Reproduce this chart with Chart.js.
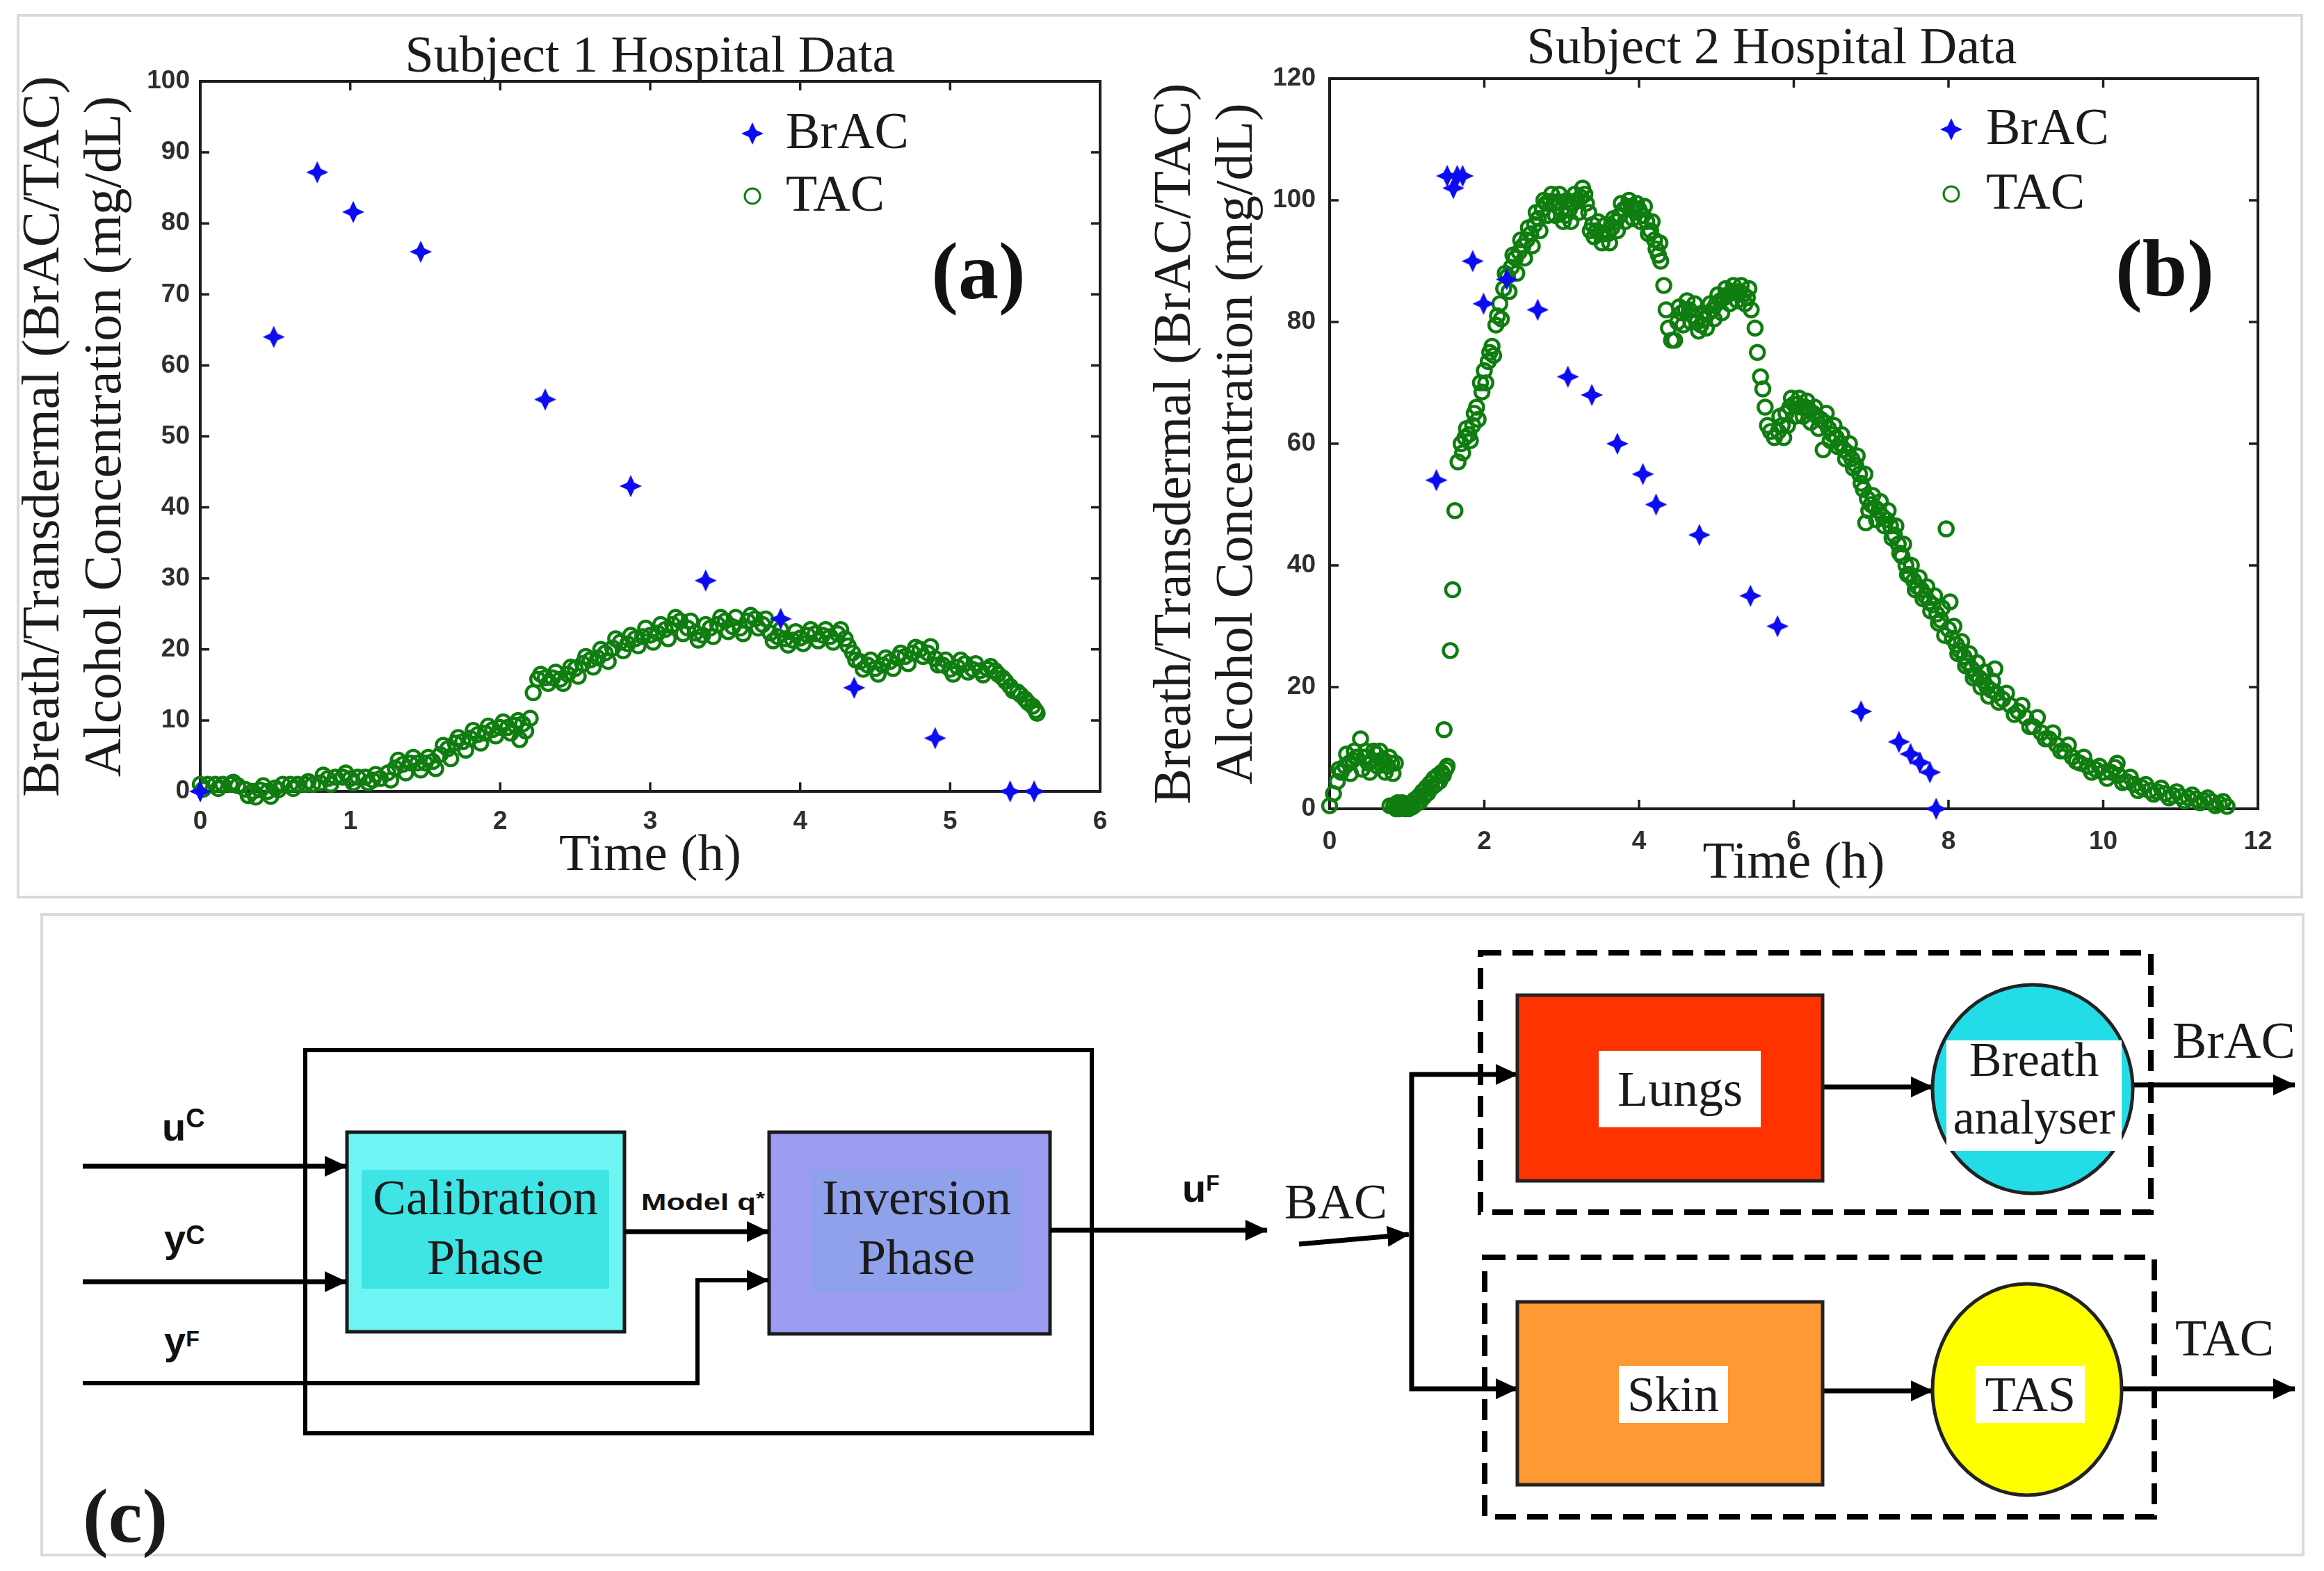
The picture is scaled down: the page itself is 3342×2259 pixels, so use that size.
<!DOCTYPE html>
<html><head><meta charset="utf-8">
<script src="https://cdn.jsdelivr.net/npm/chart.js@4.4.1/dist/chart.umd.min.js"></script>
<style>
html,body{margin:0;padding:0;background:#fff;}
#page{position:relative;width:3342px;height:2259px;overflow:hidden;background:#fff;}
#page canvas,#page svg{position:absolute;}
.lbl{position:absolute;font-family:'Liberation Serif','Times New Roman',serif;color:#1b1b1b;white-space:nowrap;text-align:center;}
</style></head>
<body><div id="page">
<svg width="3342" height="2259" viewBox="0 0 3342 2259" style="left:0;top:0">
<defs><marker id="ah" viewBox="0 0 32 30" markerWidth="32" markerHeight="30" refX="31" refY="15" orient="auto" markerUnits="userSpaceOnUse"><path d="M0,0 L32,15 L0,30 Z" fill="#000"/></marker></defs>
<rect x="26" y="22" width="3284" height="1268" fill="none" stroke="#dadada" stroke-width="4"/>
<rect x="60" y="1315" width="3252" height="921" fill="none" stroke="#dadada" stroke-width="4"/>
<g font-family="Liberation Serif" fill="#1a1a1a" font-size="72" dominant-baseline="central" text-anchor="middle">
 <rect x="439" y="1510" width="1131" height="551" fill="none" stroke="#000" stroke-width="6"/>
 <rect x="499" y="1628" width="399" height="287" fill="#6ff4f4" stroke="#1a1a1a" stroke-width="5"/>
 <rect x="520" y="1682" width="356" height="171" fill="#3fe4e4"/>
 <text x="698" y="1722">Calibration</text><text x="698" y="1808">Phase</text>
 <rect x="1106" y="1628" width="404" height="290" fill="#9c9cf2" stroke="#1a1a1a" stroke-width="5"/>
 <rect x="1166" y="1682" width="304" height="175" fill="#8fa1ea"/>
 <text x="1318" y="1722">Inversion</text><text x="1318" y="1808">Phase</text>
 <g stroke="#000" stroke-width="7" fill="none">
  <line x1="119" y1="1677" x2="498" y2="1677" marker-end="url(#ah)"/>
  <line x1="119" y1="1843" x2="498" y2="1843" marker-end="url(#ah)"/>
  <polyline points="119,1989 1003,1989 1003,1841 1105,1841" stroke-width="6" marker-end="url(#ah)"/>
  <line x1="898" y1="1771" x2="1105" y2="1771" marker-end="url(#ah)"/>
  <line x1="1510" y1="1769" x2="1822" y2="1769" marker-end="url(#ah)"/>
  <line x1="1868" y1="1789" x2="2026" y2="1775" marker-end="url(#ah)"/>
  <line x1="2030" y1="1542" x2="2030" y2="2000"/>
  <line x1="2027" y1="1545" x2="2182" y2="1545" marker-end="url(#ah)"/>
  <line x1="2027" y1="1997" x2="2182" y2="1997" marker-end="url(#ah)"/>
  <line x1="2621" y1="1563" x2="2779" y2="1563" marker-end="url(#ah)"/>
  <line x1="2621" y1="2000" x2="2779" y2="2000" marker-end="url(#ah)"/>
  <line x1="3067" y1="1560" x2="3300" y2="1560" marker-end="url(#ah)"/>
  <line x1="3051" y1="1997" x2="3300" y2="1997" marker-end="url(#ah)"/>
  <rect x="2129" y="1370" width="964" height="373" stroke-width="8" stroke-dasharray="30 16"/>
  <rect x="2135" y="1808" width="963" height="373" stroke-width="8" stroke-dasharray="30 16"/>
 </g>
 <g font-family="Liberation Sans" font-weight="bold" text-anchor="start" dominant-baseline="alphabetic" fill="#111">
  <text x="233" y="1640" font-size="56">u<tspan font-size="38" dy="-19">C</tspan></text>
  <text x="236" y="1800" font-size="56">y<tspan font-size="38" dy="-11">C</tspan></text>
  <text x="236" y="1947" font-size="56">y<tspan font-size="32" dy="-11">F</tspan></text>
  <text x="1700" y="1728" font-size="56">u<tspan font-size="32" dy="-16">F</tspan></text>
  <text x="922" y="1740" font-size="34" textLength="178" lengthAdjust="spacingAndGlyphs">Model q<tspan dy="-8" font-size="26">*</tspan></text>
 </g>
 <text x="1847" y="1728" text-anchor="start">BAC</text>
 <rect x="2182" y="1431" width="439" height="267" fill="#ff3300" stroke="#222" stroke-width="5"/>
 <rect x="2299" y="1511" width="233" height="110" fill="#fff"/>
 <text x="2416" y="1566">Lungs</text>
 <rect x="2182" y="1872" width="439" height="263" fill="#ff9933" stroke="#222" stroke-width="5"/>
 <rect x="2328" y="1964" width="157" height="82" fill="#fff"/>
 <text x="2406" y="2005">Skin</text>
 <ellipse cx="2923" cy="1566" rx="144" ry="150" fill="#22dde8" stroke="#222" stroke-width="5"/>
 <rect x="2799" y="1496" width="252" height="159" fill="#fff"/>
 <text x="2925" y="1523" font-size="70">Breath</text><text x="2925" y="1606" font-size="70">analyser</text>
 <ellipse cx="2915" cy="1998" rx="136" ry="152" fill="#ffff00" stroke="#222" stroke-width="5"/>
 <rect x="2841" y="1964" width="157" height="82" fill="#fff"/>
 <text x="2920" y="2005">TAS</text>
 <text x="3124" y="1496" text-anchor="start" font-size="74">BrAC</text>
 <text x="3128" y="1924" text-anchor="start" font-size="74">TAC</text>
 <text x="119" y="2180" text-anchor="start" font-size="110" font-weight="bold">(c)</text>
</g>
</svg>
<canvas id="c1" width="1640" height="1273" style="left:0;top:0"></canvas>
<canvas id="c2" width="1702" height="1284" style="left:1640px;top:0"></canvas>
<div class="lbl" style="left:435px;width:1000px;top:41px;font-size:74px;line-height:74px">Subject 1 Hospital Data</div>
<div class="lbl" style="left:2048px;width:1000px;top:29px;font-size:74px;line-height:74px">Subject 2 Hospital Data</div>
<div class="lbl" style="left:1307px;width:200px;top:332px;font-size:116px;line-height:116px;font-weight:bold;color:#111">(a)</div>
<div class="lbl" style="left:3013px;width:200px;top:328px;font-size:116px;line-height:116px;font-weight:bold;color:#111">(b)</div>
</div>
<script>
// ---------------- data ----------------
const seriesNames = ['BrAC', 'TAC'];
const yTitle = ['Breath/Transdermal (BrAC/TAC)', 'Alcohol Concentration (mg/dL)'];
const xTitle = 'Time (h)';
const xTicks1 = [0, 1, 2, 3, 4, 5, 6];
const yTicks1 = [0, 10, 20, 30, 40, 50, 60, 70, 80, 90, 100];
const xTicks2 = [0, 2, 4, 6, 8, 10, 12];
const yTicks2 = [0, 20, 40, 60, 80, 100, 120];

// Subject 1: [time (h), mg/dL]
const brac1 = [[0,0],[0.49,64],[0.78,87.2],[1.02,81.6],[1.47,76],[2.3,55.2],[2.87,43],[3.37,29.7],[3.87,24.3],[4.36,14.6],[4.9,7.5],[5.4,0],[5.56,0]];
// TAC circles along the middle of the band
const tac1 = [[0,1],[0.05,1],[0.1,1],[0.15,1],[0.2,1],[0.25,0.8],[0.3,0.3],[0.35,0],[0.4,0.2],[0.45,0],
[0.5,0.5],[0.55,1],[0.6,1],[0.65,1],[0.7,1],[0.75,1],[0.8,1.2],[0.85,1.8],[0.9,2],[0.95,2],
[1,1.8],[1.05,2],[1.1,2],[1.15,1.6],[1.2,1.8],[1.25,2.6],[1.3,3.3],[1.35,3.8],[1.4,4],[1.45,4],
[1.5,4],[1.55,4.2],[1.6,5.2],[1.65,6],[1.7,6.8],[1.75,7],[1.8,7.5],[1.85,8],[1.9,8.2],[1.95,8.7],
[2,9],[2.05,9],[2.1,9.3],[2.15,9.5],[2.2,10.3],[2.22,13.9],
[2.25,15.8],[2.3,16],[2.35,16],[2.4,15.8],[2.45,16.5],[2.5,17.3],[2.55,18],[2.6,18.5],[2.65,18.8],[2.7,19.5],
[2.75,20.2],[2.8,21],[2.85,20.8],[2.9,21.5],[2.95,21.8],[3,22],[3.05,22.3],[3.1,22.8],[3.15,23.5],[3.2,24],
[3.25,23],[3.3,22.3],[3.35,22],[3.4,23],[3.45,23.5],[3.5,24],[3.55,23.2],[3.6,23],[3.65,24],[3.7,24.3],
[3.75,23.5],[3.8,22.3],[3.85,21.8],[3.9,21.5],[3.95,21.3],[4,21.6],[4.05,22],[4.1,22.2],[4.15,22],[4.2,21.8],
[4.25,22.2],[4.3,21.5],[4.35,19.5],[4.4,18.3],[4.45,17.8],[4.5,17.3],[4.55,17.8],[4.6,18.3],[4.65,18.8],[4.7,19],
[4.75,19.5],[4.8,20],[4.85,19.5],[4.9,18.7],[4.95,17.8],[5,17.2],[5.05,17.5],[5.1,18],[5.15,17.2],[5.2,17],
[5.25,17.2],[5.3,17],[5.35,16],[5.4,14.8],[5.45,14],[5.5,13],[5.55,12],[5.58,11]];
// further TAC circles read along the upper / lower edges of the band
const tac1Edge = [[0.02,0.3],[0.12,0.4],[0.22,1.3],[0.32,-0.6],[0.37,-0.8],[0.42,0.8],[0.47,-0.7],[0.52,0.2],[0.62,0.4],[0.72,1.4],
[0.82,2.3],[0.87,1],[0.97,2.6],[1.02,1.2],[1.12,1.2],[1.17,2.4],[1.27,1.6],[1.32,4.4],[1.37,2.6],[1.42,4.8],
[1.47,3],[1.52,4.8],[1.57,3.2],[1.62,6.5],[1.67,4.6],[1.72,7.6],[1.77,5.8],[1.82,8.6],[1.87,6.8],[1.92,9.2],
[1.97,7.8],[2.02,9.8],[2.07,8.2],[2.12,10],[2.13,7.3],[2.17,8.5],
[2.27,16.5],[2.32,15.2],[2.37,16.8],[2.42,15.2],[2.47,17.5],[2.52,16.2],[2.57,19],[2.62,17.5],[2.67,20],[2.72,18.3],
[2.77,21.5],[2.82,19.8],[2.87,22],[2.92,20.5],[2.97,23],[3.02,21],[3.07,23.5],[3.12,21.5],[3.17,24.5],[3.22,22.2],
[3.27,24],[3.32,21.3],[3.37,23.5],[3.42,21.8],[3.47,24.5],[3.52,22.5],[3.57,24.5],[3.62,22.2],[3.67,24.8],[3.72,23],
[3.77,24.3],[3.82,21.2],[3.87,22.8],[3.92,20.6],[3.97,22.5],[4.02,20.8],[4.07,22.8],[4.12,21.2],[4.17,22.8],[4.22,21],
[4.27,22.8],[4.32,20.5],[4.37,18.5],[4.42,17.2],[4.47,18.5],[4.52,16.5],[4.57,18.8],[4.62,17.3],[4.67,19.5],[4.72,18],
[4.77,20.3],[4.82,19],[4.87,20.4],[4.92,17.8],[4.97,18.5],[5.02,16.5],[5.07,18.5],[5.12,16.8],[5.17,18],[5.22,16.4],
[5.27,17.6],[5.32,16.5],[5.37,15.5],[5.42,14.2],[5.47,13.6],[5.52,12.5],[5.57,11.4]];

// Subject 2: [time (h), mg/dL]
const brac2 = [[1.38,54],[1.52,104],[1.6,102],[1.65,104],[1.72,104],[1.85,90],[1.99,83],[2.29,87],[2.69,82],[3.08,71],[3.39,68],[3.72,60],[4.05,55],[4.22,50],[4.78,45],[5.44,35],[5.79,30],[6.87,16],[7.36,11],[7.51,9],[7.63,7.6],[7.76,6],[7.84,0]];
const tac2 = [[0,0.5],[0.05,2.5],[0.1,4.5],[0.15,6],[0.2,7],[0.25,7.5],[0.3,8],[0.35,8.5],[0.4,11.5],[0.45,8.5],
[0.5,7.5],[0.55,8],[0.6,9],[0.65,9.5],[0.7,8],[0.75,7],[0.78,0.5],[0.8,7.5],[0.83,0.5],[0.85,7.5],[0.88,1],[0.92,0.5],[0.96,0.5],
[1,0.5],[1.05,1],[1.1,1.5],[1.15,2],[1.2,2.8],[1.25,3.5],[1.3,4.2],[1.35,5],[1.4,5.5],[1.45,6],[1.48,13],[1.5,6.5],
[1.56,26],[1.59,36],[1.62,49],[1.66,57],[1.7,60],[1.75,61],[1.8,61.5],[1.85,63],[1.9,66],[1.95,70],
[2,72],[2.05,73.5],[2.1,76],[2.15,79.5],[2.2,83],[2.25,85.5],[2.3,87.5],[2.35,89],[2.4,90.5],[2.45,91.5],
[2.5,92.5],[2.55,93.5],[2.6,94.5],[2.65,96],[2.7,97],[2.75,98.5],[2.8,99.5],[2.85,99.8],[2.9,99.5],[2.95,99.8],
[3,98.5],[3.05,97.5],[3.1,98.5],[3.15,99.5],[3.2,100],[3.25,100.5],[3.3,101],[3.35,98],[3.4,96],[3.45,95],
[3.5,94.5],[3.55,94.5],[3.6,94.5],[3.65,95.5],[3.7,96.5],[3.75,97.5],[3.8,98.5],[3.85,99],[3.9,99],[3.95,98.5],
[4,98.5],[4.05,97.5],[4.1,96.5],[4.15,95],[4.2,93.5],[4.25,91],[4.28,90],[4.32,86],[4.35,82],[4.38,79],[4.42,77],[4.46,77],
[4.5,80],[4.55,81.5],[4.6,82],[4.65,82],[4.7,81],[4.75,80],[4.8,79.5],[4.85,80.5],[4.9,81.5],[4.95,82],
[5,83],[5.05,83.5],[5.1,84],[5.15,84.5],[5.2,85],[5.25,85],[5.3,85],[5.35,84.5],[5.4,84],[5.45,82],
[5.5,79],[5.53,75],[5.57,71],[5.6,69],[5.63,66],[5.66,63],[5.7,62],[5.75,61],[5.8,62],[5.85,63],[5.9,65],[5.95,66],
[6,66.5],[6.05,66.5],[6.1,66],[6.15,66],[6.2,65.5],[6.25,65],[6.3,64.5],[6.35,64],[6.38,59],[6.4,63.5],[6.45,62.5],
[6.5,61.5],[6.55,61],[6.6,60],[6.65,59],[6.7,58.5],[6.75,57.5],[6.8,56.5],[6.85,55],[6.9,52.5],[6.93,47],[6.95,51],
[7,50],[7.05,49.5],[7.1,49],[7.15,48],[7.2,47.5],[7.25,46.5],[7.3,45],[7.35,43.5],[7.4,41.5],[7.45,40],
[7.5,38.5],[7.55,37.5],[7.6,36.5],[7.65,36],[7.7,35],[7.75,34],[7.8,33.5],[7.85,32],[7.9,31],[7.97,46],
[8,29.5],[8.02,34],[8.05,28],[8.1,27],[8.15,26],[8.2,25],[8.25,24],[8.3,23],[8.35,22],[8.4,21.5],[8.45,21],
[8.5,20],[8.55,19.5],[8.6,23],[8.62,19],[8.7,18],[8.8,17],[8.9,16],[9,15],[9.1,13.5],[9.2,12.5],[9.3,11.5],[9.4,10.5],
[9.5,9.5],[9.6,8.5],[9.7,7.5],[9.8,7],[9.9,6.5],[10,6],[10.1,6],[10.18,7.5],[10.2,5.5],[10.3,4.5],[10.4,4],
[10.5,3.5],[10.6,3],[10.7,2.8],[10.8,2.5],[10.9,2.2],[11,2],[11.1,1.8],[11.2,1.6],[11.3,1.4],[11.4,1.2],[11.5,0.8],[11.6,0.4]];
const tac2Edge = [[0.12,6.5],[0.22,9],[0.27,5.8],[0.32,9.5],[0.42,6.5],[0.47,9.5],[0.52,6],[0.57,9.5],[0.62,7],[0.67,8],[0.72,6],[0.77,8.5],[0.82,5.8],
[0.86,0],[0.9,0],[0.94,1],[0.98,0],[1.02,0],[1.07,0.3],[1.12,0.8],[1.17,1.2],[1.22,2],[1.27,2.6],[1.32,3.5],[1.37,4],[1.42,4.5],[1.47,5.5],[1.52,7],
[1.72,58.5],[1.77,62.5],[1.82,60.5],[1.87,65],[1.92,64],[1.97,68.5],[2.02,70],[2.07,75],[2.12,74.5],[2.17,81],[2.22,80.5],[2.27,88],
[2.32,85],[2.37,91],[2.42,88],[2.47,93.5],[2.52,90.5],[2.57,95.5],[2.62,92.5],[2.67,98],[2.72,95],[2.77,100],[2.82,97.5],[2.87,101],
[2.92,97.5],[2.97,101],[3.02,96.5],[3.07,100],[3.12,96.5],[3.17,101],[3.22,98],[3.27,102],[3.32,99.5],[3.37,95],[3.42,94],[3.47,96.5],
[3.52,93],[3.57,96],[3.62,93],[3.67,97],[3.72,95],[3.77,99.5],[3.82,96.5],[3.87,100],[3.92,97],[3.97,99.5],[4.02,96.5],[4.07,99],
[4.12,94.5],[4.17,96.5],[4.22,92],[4.27,93],
[4.52,82.5],[4.57,79.5],[4.62,83.5],[4.67,80],[4.72,83],[4.77,78.5],[4.82,81.5],[4.87,79],[4.92,83],[4.97,80.5],[5.02,84.5],[5.07,81.5],
[5.12,85.5],[5.17,83],[5.22,86],[5.27,83.5],[5.32,86],[5.37,83],[5.42,85.5],
[5.82,64.5],[5.87,61],[5.92,63],[5.97,67.5],[6.02,64.5],[6.07,67.5],[6.12,64.5],[6.17,67],[6.22,63.5],[6.27,66],[6.32,62.5],
[6.42,65],[6.47,60.5],[6.52,63],[6.57,59.5],[6.62,61.5],[6.67,57.5],[6.72,60],[6.77,56],[6.82,58],[6.87,53.5],[6.92,55],[6.97,49],
[7.02,51.5],[7.07,47.5],[7.12,50.5],[7.17,46.5],[7.22,49],[7.27,44.5],[7.32,46.5],[7.37,42],[7.42,43.5],[7.47,38.5],[7.52,40],[7.57,36],
[7.62,38],[7.67,34.5],[7.72,36.5],[7.77,32.5],[7.82,35],[7.87,30.5],[7.92,33],[7.95,28.5],
[8.07,30],[8.12,25.5],[8.17,27.5],[8.22,23.5],[8.27,25.5],[8.32,21.5],[8.37,24],[8.42,20],[8.47,22.5],[8.52,18.5],[8.57,21],[8.65,17.5],
[8.75,19],[8.85,15.5],[8.95,17],[9.05,13.5],[9.15,15],[9.25,11.5],[9.35,12.5],[9.45,9.5],[9.55,10.5],[9.65,7.8],[9.75,8.5],[9.85,6],
[9.95,7],[10.05,5],[10.15,6.8],[10.25,4.3],[10.35,5.2],[10.45,3],[10.55,4],[10.65,2.4],[10.75,3.4],[10.85,1.8],[10.95,2.8],[11.05,1.3],
[11.15,2.3],[11.25,1],[11.35,1.8],[11.45,0.5],[11.55,1.2]];

// ---------------- styling / rendering ----------------
const BLUE = '#0c0cf2', GREEN = '#0f7d0f', TEXT = '#1b1b1b';
const SERIF = "'Liberation Serif','Times New Roman',serif";
const SANS = "'Liberation Sans',Arial,sans-serif";

function makeStar(size, color) {
  const c = document.createElement('canvas');
  c.width = c.height = size;
  const g = c.getContext('2d');
  const h = size / 2, r = size / 2 - 1, ri = r * 0.45;
  g.beginPath();
  for (let i = 0; i < 8; i++) {
    const a = -Math.PI / 2 + i * Math.PI / 4;
    const rr = i % 2 ? ri : r;
    g.lineTo(h + rr * Math.cos(a), h + rr * Math.sin(a));
  }
  g.closePath(); g.fillStyle = color; g.fill();
  return c;
}
const star = makeStar(34, BLUE);

const boxPlugin = {
  id: 'matlabBox',
  beforeDatasetsDraw(chart) {
    const {ctx, chartArea: a, scales: {x, y}} = chart;
    ctx.save();
    ctx.strokeStyle = '#1e1e1e'; ctx.lineWidth = 4;
    ctx.strokeRect(a.left, a.top, a.right - a.left, a.bottom - a.top);
    ctx.lineWidth = 3.5; const L = 13;
    ctx.beginPath();
    x.ticks.forEach(t => { const p = x.getPixelForValue(t.value); ctx.moveTo(p, a.bottom); ctx.lineTo(p, a.bottom - L); ctx.moveTo(p, a.top); ctx.lineTo(p, a.top + L); });
    y.ticks.forEach(t => { const p = y.getPixelForValue(t.value); ctx.moveTo(a.left, p); ctx.lineTo(a.left + L, p); ctx.moveTo(a.right, p); ctx.lineTo(a.right - L, p); });
    ctx.stroke();
    ctx.restore();
  }
};

const legendPlugin = {
  id: 'inLegend',
  afterDatasetsDraw(chart, args, o) {
    const {ctx, chartArea: a} = chart;
    const mx = a.left + o.dx, y1 = a.top + o.dy1, y2 = a.top + o.dy2, tx = a.left + o.tx;
    ctx.save();
    ctx.drawImage(star, mx - star.width / 2, y1 - star.height / 2);
    ctx.beginPath(); ctx.arc(mx, y2, 11, 0, Math.PI * 2);
    ctx.lineWidth = 3; ctx.strokeStyle = GREEN; ctx.stroke();
    ctx.font = '74px ' + SERIF; ctx.fillStyle = TEXT; ctx.textBaseline = 'middle'; ctx.textAlign = 'left';
    ctx.fillText(chart.data.datasets[0].label, tx, y1 + 2);
    ctx.fillText(chart.data.datasets[1].label, tx, y2 + 2);
    ctx.restore();
  }
};

function build(id, brac, tac, xT, yT, lay) {
  return new Chart(document.getElementById(id), {
    type: 'scatter',
    data: {
      datasets: [
        {label: seriesNames[0], data: brac.map(p => ({x: p[0], y: p[1]})), pointStyle: star, pointRadius: 17, clip: false, order: 0},
        {label: seriesNames[1], data: tac.map(p => ({x: p[0], y: p[1]})), pointStyle: 'circle', pointRadius: 10,
         borderWidth: 4.5, borderColor: GREEN, backgroundColor: 'rgba(0,0,0,0)', clip: false, order: 1}
      ]
    },
    options: {
      responsive: false, animation: false, events: [],
      layout: {padding: {left: lay.padL, top: lay.padT, right: lay.padR, bottom: 0}},
      plugins: {legend: {display: false}, tooltip: {enabled: false},
        inLegend: {dx: lay.lgX, dy1: lay.lgY1, dy2: lay.lgY2, tx: lay.lgT}},
      scales: {
        x: {
          type: 'linear', min: xT[0], max: xT[xT.length - 1],
          afterBuildTicks: s => { s.ticks = xT.map(v => ({value: v})); },
          afterFit: s => { s.height = lay.xH; },
          grid: {display: false, drawTicks: false}, border: {display: false},
          ticks: {padding: lay.xPad, autoSkip: false, maxRotation: 0, color: '#2e2e2e', font: {family: SANS, weight: 'bold', size: 37}},
          title: {display: true, text: xTitle, color: TEXT, padding: 0, font: {family: SERIF, size: 75, lineHeight: 1.1}}
        },
        y: {
          type: 'linear', min: yT[0], max: yT[yT.length - 1],
          afterBuildTicks: s => { s.ticks = yT.map(v => ({value: v})); },
          afterFit: s => { s.width = lay.yW; },
          grid: {display: false, drawTicks: false}, border: {display: false},
          ticks: {padding: lay.yPad, autoSkip: false, color: '#2e2e2e', font: {family: SANS, weight: 'bold', size: 37}},
          title: {display: true, text: yTitle, color: TEXT, padding: 0, font: {family: SERIF, size: 77, lineHeight: 1.16}}
        }
      }
    },
    plugins: [boxPlugin, legendPlugin]
  });
}

build('c1', brac1, tac1.concat(tac1Edge), xTicks1, yTicks1,
  {padL: 19, padT: 117, padR: 58, xH: 135, yW: 269, xPad: 22, yPad: 15, lgX: 794, lgY1: 75, lgY2: 165, lgT: 842});
build('c2', brac2, tac2.concat(tac2Edge), xTicks2, yTicks2,
  {padL: 6, padT: 113, padR: 95, xH: 121, yW: 266, xPad: 26, yPad: 20, lgX: 894, lgY1: 73, lgY2: 166, lgT: 944});
</script>
</body></html>
